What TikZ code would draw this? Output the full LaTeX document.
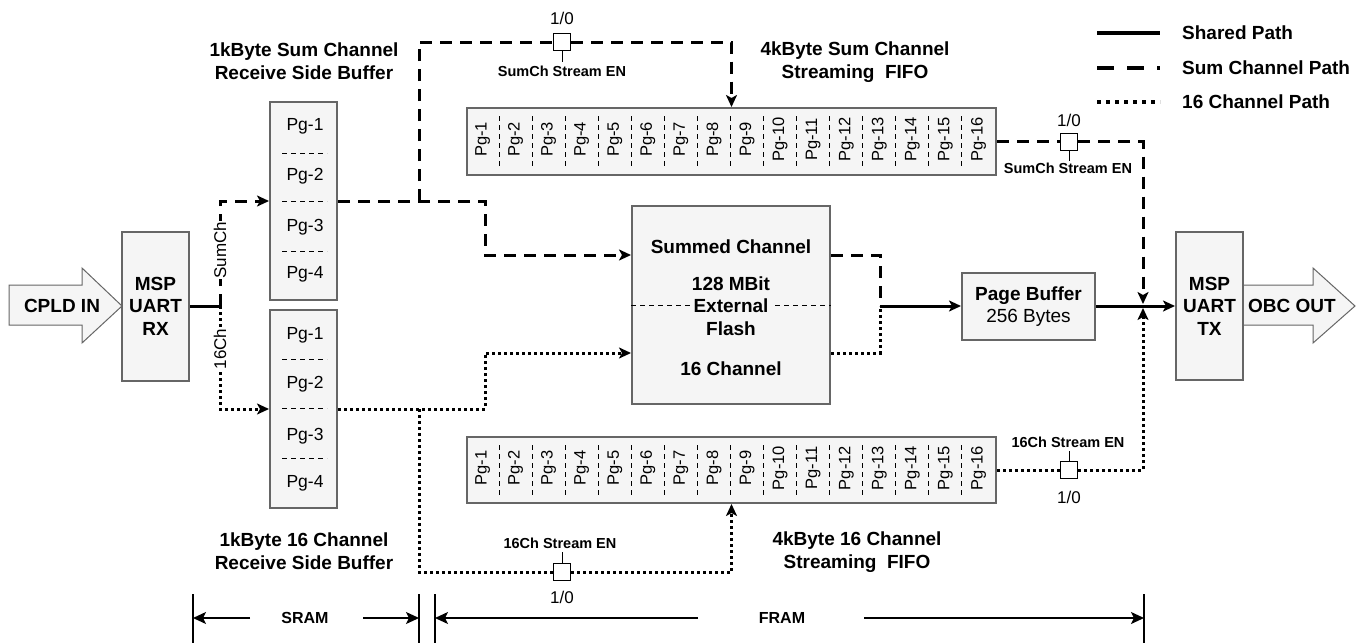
\documentclass[tikz,border=0pt]{standalone}
\usepackage{fontspec}
\setmainfont{Liberation Sans}
\usetikzlibrary{arrows.meta,calc}
\definecolor{boxgray}{HTML}{666666}
\definecolor{boxfill}{HTML}{F5F5F5}
\begin{document}
\begin{tikzpicture}[x=1pt,y=-1pt,
  box/.style={draw=boxgray,line width=2pt,fill=boxfill,inner sep=0pt,align=center},
  conn/.style={line width=3pt},
  dsh/.style={conn,dash pattern=on 12pt off 8pt},
  dtd/.style={conn,dash pattern=on 3pt off 3pt},
  tip/.style={-{Stealth[length=12pt,width=11pt,inset=3pt]}},
  sw/.style={draw=black,line width=1pt,fill=white,minimum size=17pt,inner sep=0pt},
  big/.style={font=\fontsize{19}{22.5}\selectfont\bfseries,inner sep=0pt,align=center},
  reg/.style={font=\fontsize{19}{22.5}\selectfont,inner sep=0pt,align=center},
  pg/.style={font=\fontsize{17.5}{20}\selectfont,inner sep=0pt},
  pgr/.style={font=\fontsize{16.5}{18}\selectfont,inner sep=0pt,rotate=90},
  small/.style={font=\fontsize{14.5}{17}\selectfont\bfseries,inner sep=0pt},
  onezero/.style={font=\fontsize{17}{20}\selectfont,inner sep=0pt},
  sep/.style={line width=1pt,dash pattern=on 5pt off 4pt},
  dim/.style={line width=1.5pt},
  dimtip/.style={line width=1.5pt,-{Stealth[length=13pt,width=12pt,inset=3pt]}},
  arrowshape/.style={draw=boxgray,line width=1pt,fill=boxfill}
]
\useasboundingbox (0,0) rectangle (1366,643);
\fill[white] (0,0) rectangle (1366,643);

% ---------- input / output arrows ----------
\draw[arrowshape] (9,285) -- (82,285) -- (82,268) -- (122,306) -- (82,343) -- (82,325) -- (9,325) -- cycle;
\node[big] (cpld) at (62,306) {CPLD IN};
\draw[arrowshape] (1243,285) -- (1313,285) -- (1313,268) -- (1355,306) -- (1313,343) -- (1313,325) -- (1243,325) -- cycle;
\node[big] (obc) at (1292,306) {OBC OUT};

% ---------- boxes ----------
\node[box,big,minimum width=67pt,minimum height=149pt] (rx) at (155.5,306) {MSP\\UART\\RX};
\node[box,big,minimum width=67pt,minimum height=148pt] (tx) at (1209.5,306) {MSP\\UART\\TX};
\node[box,minimum width=67pt,minimum height=198pt] (sbuf) at (303.5,201) {};
\node[box,minimum width=67pt,minimum height=198pt] (cbuf) at (303.5,409) {};
\node[box,minimum width=198pt,minimum height=198pt] (flash) at (731,305) {};
\node[box,minimum width=529pt,minimum height=67pt] (fifoS) at (731.5,141.5) {};
\node[box,minimum width=529pt,minimum height=66pt] (fifoC) at (731.5,470) {};
\node[box,minimum width=133pt,minimum height=67pt] (pbuf) at (1028.5,306) {};

% receive buffers contents
\node[pg] (s1) at (305,126) {Pg-1};
\node[pg] (s2) at (305,176) {Pg-2};
\node[pg] (s3) at (305,227) {Pg-3};
\node[pg] (s4) at (305,274) {Pg-4};
\foreach \yy in {153,201,251} \draw[sep] (282,\yy) -- (327,\yy);
\node[pg] (c1) at (305,335) {Pg-1};
\node[pg] (c2) at (305,384) {Pg-2};
\node[pg] (c3) at (305,436) {Pg-3};
\node[pg] (c4) at (305,483) {Pg-4};
\foreach \yy in {359,408,458} \draw[sep] (282,\yy) -- (327,\yy);

% FIFO contents
\foreach \i in {1,...,16} {
  \node[pgr] (fs\i) at ($(fifoS.west)+({33.0625*(\i-0.5)},-2)$) {Pg-\i};
  \node[pgr] (fc\i) at ($(fifoC.west)+({33.0625*(\i-0.5)},-2)$) {Pg-\i};
}
\foreach \i in {1,...,15} {
  \draw[sep] ($(fifoS.north west)+({33.0625*\i},9)$) -- ($(fifoS.south west)+({33.0625*\i},-8)$);
  \draw[sep] ($(fifoC.north west)+({33.0625*\i},9)$) -- ($(fifoC.south west)+({33.0625*\i},-8)$);
}

% flash contents
\node[big] (fl1) at (731,247) {Summed Channel};
\draw[sep] (flash.west) -- (flash.east);
\node[big] (fl2) at (731,284) {128 MBit};
\node[big,fill=boxfill,inner xsep=3pt] (fl3) at (731,306) {External};
\node[big] (fl4) at (731,329) {Flash};
\node[big] (fl5) at (731,369) {16 Channel};

% page buffer contents
\node[big] (pb1) at (1028.5,296) {Page Buffer};
\node[reg] (pb2) at (1028.5,318) {256 Bytes};

% titles
\node[big] (t1) at (304,61) {1kByte Sum Channel\\Receive Side Buffer};
\node[big] (t2) at (304,551) {1kByte 16 Channel\\Receive Side Buffer};
\node[big] (t3) at (855,62) {4kByte Sum Channel\\Streaming\ \ FIFO};
\node[big] (t4) at (857,552) {4kByte 16 Channel\\Streaming\ \ FIFO};

% ---------- switches ----------
\node[sw] (swS1) at (562,42) {};
\node[sw] (swS2) at (1069,141.5) {};
\node[sw] (swC1) at (562,572) {};
\node[sw] (swC2) at (1069,470) {};
\node[onezero] (oz1) at (562,18) {1/0};
\node[onezero] (oz2) at (1069,120) {1/0};
\node[onezero] (oz3) at (562,597) {1/0};
\node[onezero] (oz4) at (1069,497) {1/0};
\draw[line width=1pt] (swS1.south) -- ++(0,11);
\draw[line width=1pt] (swS2.south) -- ++(0,10);
\draw[line width=1pt] (swC1.north) -- ++(0,-11);
\draw[line width=1pt] (swC2.north) -- ++(0,-10);
\node[small] (en1) at (562,71) {SumCh Stream EN};
\node[small] (en2) at (1068,168) {SumCh Stream EN};
\node[small] (en3) at (560,543) {16Ch Stream EN};
\node[small] (en4) at (1068,442) {16Ch Stream EN};

% ---------- connectors ----------
\coordinate (split) at (220,306);
\coordinate (bS) at (419,201);
\coordinate (bC) at (419,409);
\coordinate (mrg) at (880,306);
\coordinate (jn) at (1143,306);

\draw[conn] (rx.east) -- (split);
\draw[dsh,tip] (split) |- (sbuf.west);
\draw[dtd,tip] (split) |- (cbuf.west);
\node[onezero,rotate=90,fill=white,inner sep=1pt] (lsum) at (220,250) {SumCh};
\node[onezero,rotate=90,fill=white,inner sep=1pt] (l16) at (220,349) {16Ch};

% sum channel path
\draw[dsh,tip] (sbuf.east) -- (485,201) |- ($(flash.west)+(0,-50)$);
\draw[dsh] (bS) |- (swS1.west);
\draw[dsh,tip] (swS1.east) -| (fifoS.north);
\draw[dsh] ($(flash.east)+(0,-50)$) -| (mrg);
\draw[dsh] (fifoS.east) -- (swS2.west);
\draw[dsh,tip] (swS2.east) -| ($(jn)+(0,-2)$);

% 16 channel path
\draw[dtd,tip] (cbuf.east) -- (485,409) |- ($(flash.west)+(0,48)$);
\draw[dtd] (bC) |- (swC1.west);
\draw[dtd,tip] (swC1.east) -| (fifoC.south);
\draw[dtd] ($(flash.east)+(0,48)$) -| (mrg);
\draw[dtd] (fifoC.east) -- (swC2.west);
\draw[dtd,tip] (swC2.east) -| ($(jn)+(0,2)$);

% shared path
\draw[conn,tip] (mrg) -- (pbuf.west);
\draw[conn,tip] (pbuf.east) -- (tx.west);

% ---------- legend ----------
\draw[line width=4pt] (1097,33) -- (1160,33);
\draw[line width=4pt,dash pattern=on 17pt off 13pt] (1097,68) -- (1160,68);
\draw[line width=4pt,dash pattern=on 4pt off 5pt] (1097,102) -- (1160,102);
\node[big,anchor=west] (lg1) at (1182,33) {Shared Path};
\node[big,anchor=west] (lg2) at (1182,68) {Sum Channel Path};
\node[big,anchor=west] (lg3) at (1182,102) {16 Channel Path};

% ---------- memory ranges ----------
\draw[dim] (193,594) -- (193,643);
\draw[dim] (419,594) -- (419,643);
\draw[dim] (435,594) -- (435,643);
\draw[dim] (1144,594) -- (1144,643);
\node[font=\fontsize{16}{18}\selectfont\bfseries,inner sep=0pt] (sram) at (305,618) {SRAM};
\node[font=\fontsize{16}{18}\selectfont\bfseries,inner sep=0pt] (fram) at (782,618) {FRAM};
\draw[dimtip] (250,618) -- (193,618);
\draw[dimtip] (363,618) -- (419,618);
\draw[dimtip] (698,618) -- (435,618);
\draw[dimtip] (864,618) -- (1144,618);
\end{tikzpicture}
\end{document}
